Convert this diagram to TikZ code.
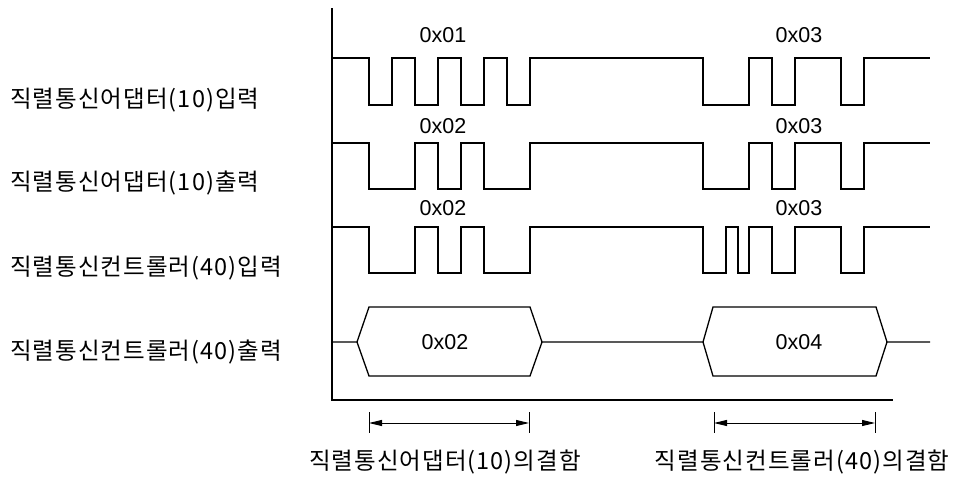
\documentclass[tikz,border=0pt]{standalone}
\usepackage{fontspec}
\setmainfont{Noto Sans CJK KR}
\newfontfamily\krfont[LetterSpace=4.5]{Noto Sans CJK KR}
\newfontfamily\hexfont{Liberation Sans}
\usetikzlibrary{arrows.meta}
\begin{document}
\begin{tikzpicture}[x=1pt,y=-1pt,
  wave/.style={line width=1.3pt,line join=miter},
  axisline/.style={line width=1.3pt},
  hexlbl/.style={inner sep=0pt,font=\hexfont\fontsize{21.5}{25}\selectfont},
  rowlbl/.style={inner sep=0pt,anchor=west,font=\krfont\fontsize{23.5}{27}\selectfont},
  botlbl/.style={inner sep=0pt,font=\krfont\fontsize{23.5}{27}\selectfont},
  tick/.style={line width=1pt},
  dim/.style={line width=1pt,{Triangle[length=13pt,width=6pt]}-{Triangle[length=13pt,width=6pt]}}]
\useasboundingbox (0,0) rectangle (961,482);

% axes
\coordinate (top) at (332,8);
\coordinate (orig) at (332,400);
\coordinate (xend) at (893,400);
\draw[axisline] (top) -- (orig) -- (xend);

% row labels
\node[rowlbl] (l1) at (10,100) {직렬통신어댑터(10)입력};
\node[rowlbl] (l2) at (10,183) {직렬통신어댑터(10)출력};
\node[rowlbl] (l3) at (10,268) {직렬통신컨트롤러(40)입력};
\node[rowlbl] (l4) at (10,352) {직렬통신컨트롤러(40)출력};

% row 1
\draw[wave] (332,58) -| (369,105) -| (392,58) -| (415,105) -| (438,58) -| (461,105)
  -| (484,58) -| (507,105) -| (530,58) -| (703,105) -| (749,58) -| (772,105)
  -| (795,58) -| (841,105) -| (864,58) -- (930,58);
\node[hexlbl] (h1a) at (443,35) {0x01};
\node[hexlbl] (h1b) at (799,35) {0x03};

% row 2
\draw[wave] (332,143) -| (369,189) -| (415,143) -| (438,189) -| (461,143) -| (484,189)
  -| (530,143) -| (703,189) -| (749,143) -| (772,189) -| (795,143) -| (841,189)
  -| (864,143) -- (930,143);
\node[hexlbl] (h2a) at (443,126) {0x02};
\node[hexlbl] (h2b) at (799,126) {0x03};

% row 3
\draw[wave] (332,227) -| (369,273) -| (415,227) -| (438,273) -| (461,227) -| (484,273)
  -| (530,227) -| (703,273) -| (726,227) -| (738,273) -| (749,227) -| (772,273)
  -| (795,227) -| (841,273) -| (864,227) -- (930,227);
\node[hexlbl] (h3a) at (443,208) {0x02};
\node[hexlbl] (h3b) at (799,208) {0x03};

% row 4 (bus)
\draw[wave] (332,342) -- (357,342) -- (369,307) -- (530,307) -- (542,342) -- (703,342)
  -- (713,307) -- (876,307) -- (887,342) -- (930,342);
\draw[wave] (357,342) -- (369,376) -- (530,376) -- (542,342);
\draw[wave] (703,342) -- (713,376) -- (876,376) -- (887,342);
\node[hexlbl] (b1) at (445,342) {0x02};
\node[hexlbl] (b2) at (799,342) {0x04};

% dimension markers
\coordinate (t1a) at (369,412); \coordinate (t1b) at (369,433);
\coordinate (t2a) at (529,412); \coordinate (t2b) at (529,433);
\coordinate (t3a) at (714,412); \coordinate (t3b) at (714,433);
\coordinate (t4a) at (875,412); \coordinate (t4b) at (875,433);
\draw[tick] (t1a) -- (t1b);
\draw[tick] (t2a) -- (t2b);
\draw[tick] (t3a) -- (t3b);
\draw[tick] (t4a) -- (t4b);
\coordinate (d1l) at (369,423); \coordinate (d1r) at (529,423);
\coordinate (d2l) at (714,423); \coordinate (d2r) at (875,423);
\draw[dim] (d1l) -- (d1r);
\draw[dim] (d2l) -- (d2r);

\node[botlbl] (f1) at (445,462) {직렬통신어댑터(10)의결함};
\node[botlbl] (f2) at (802,462) {직렬통신컨트롤러(40)의결함};
\end{tikzpicture}
\end{document}
